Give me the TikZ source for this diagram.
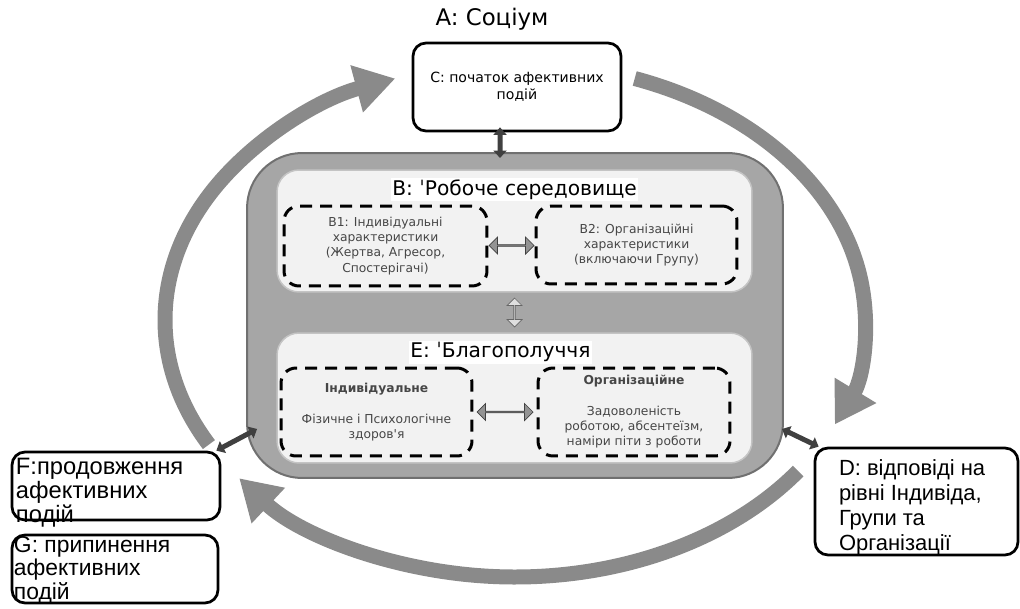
\documentclass[tikz,border=0pt]{standalone}
\usepackage{fontspec}
\setmainfont{Liberation Sans}
\newfontfamily\headfont{DejaVu Sans}
\usetikzlibrary{positioning, calc, arrows.meta, shapes.arrows}
\definecolor{arcgray}{RGB}{138,138,138}
\definecolor{envfill}{RGB}{166,166,166}
\definecolor{envedge}{RGB}{112,112,112}
\definecolor{panelfill}{RGB}{242,242,242}
\definecolor{paneledge}{RGB}{196,196,196}
\definecolor{linkdark}{RGB}{64,64,64}
\definecolor{notegray}{RGB}{70,70,70}
\tikzset{%
  event/.style = {rectangle, draw, line width=0.055cm, rounded corners=0.26cm,
                  inner sep=0pt},
  eventText/.style = {align=left, inner sep=0pt},
  envBox/.style = {rectangle, fill=envfill, draw=envedge, line width=0.04cm,
                   rounded corners=1.1cm, minimum width=10.72cm, minimum height=6.5cm},
  panel/.style = {rectangle, fill=panelfill, draw=paneledge, line width=0.03cm,
                  rounded corners=0.44cm, minimum width=9.5cm},
  panelTitle/.style = {fill=white, inner sep=1pt,
                       font=\headfont\fontsize{11.5}{13}\selectfont},
  factor/.style = {rectangle, draw, line width=0.06cm,
                   dash pattern=on 0.24cm off 0.16cm, rounded corners=0.3cm,
                   align=center, text=notegray, inner sep=0pt,
                   font=\headfont\fontsize{7}{8.6}\selectfont},
  loopArc/.style = {draw=arcgray, line width=0.3cm,
                    -{Triangle[width=0.92cm,length=0.8cm]}},
  link/.style = {draw=linkdark, line width=0.1cm,
                 {Triangle[width=0.26cm,length=0.15cm]}-{Triangle[width=0.26cm,length=0.15cm]}},
  exchange/.style = {double arrow, draw=black!75, fill=gray!85, inner sep=0pt,
                     minimum height=0.9cm, minimum width=0.34cm,
                     double arrow head extend=0.07cm}
  }

\begin{document}
\begin{tikzpicture}[x=0.02cm, y=-0.02cm]
    \useasboundingbox (0,0) rectangle (1020,608);
    \coordinate (hub) at (515,320);

    % the cycle of events
    \draw[loopArc] (hub) ++(151:350 and 257)
        arc[start angle=151, end angle=250, x radius=350, y radius=257];
    \draw[loopArc] (hub) ++(290:350 and 257)
        arc[start angle=290, end angle=384, x radius=350, y radius=257];
    \draw[loopArc] (hub) ++(36:350 and 257)
        arc[start angle=36, end angle=142, x radius=350, y radius=257];

    \node (envBox)  [envBox] at (515,315.5) {};
    \node (workB)   [panel, minimum height=2.44cm] at (514.5,231) {};
    \node (wellE)   [panel, minimum height=2.6cm]  at (514.5,398) {};

    \node (bTitle)  [panelTitle, below=0.16cm of workB.north] {B: ˈРобоче середовище};
    \node (eTitle)  [panelTitle, below=0.16cm of wellE.north, xshift=-0.28cm] {E: ˈБлагополуччя};

    \node (bInd) [factor, minimum width=4.06cm, minimum height=1.6cm] at (385.5,246)
        {B1: Індивідуальні\\характеристики\\(Жертва, Агресор,\\Спостерігачі)};
    \node (bOrg) [factor, minimum width=4.02cm, minimum height=1.56cm] at (636.5,245)
        {B2: Організаційні\\характеристики\\(включаючи Групу)};
    \node (eInd) [factor, minimum width=3.82cm, minimum height=1.76cm] at (376.5,412)
        {\textbf{Індивідуальне}\\[9pt]Фізичне і Психологічне\\здоров'я};
    \node (eOrg) [factor, minimum width=3.84cm, minimum height=1.76cm] at (634,412)
        {\textbf{Організаційне}\\[9pt]Задоволеність\\роботою, абсентеїзм,\\наміри піти з роботи};

    \node (bLink) [exchange] at ($(bInd.east)!0.5!(bOrg.west)$) {};
    \node (eLink) [exchange, minimum height=1.12cm] at ($(eInd.east)!0.5!(eOrg.west)$) {};
    \node (beLink) [exchange, rotate=90, fill=gray!25, draw=black!60,
                    minimum height=0.58cm, minimum width=0.3cm]
        at ($(workB.south)!0.5!(wellE.north)$) {};

    \node (csoc) [event, minimum width=4.16cm, minimum height=1.76cm, align=center,
                  font=\headfont\fontsize{8}{9.5}\selectfont] at (517,87)
        {C: початок афективних\\подій};
    \node (socLabel) [above=0.22cm of csoc, xshift=-0.5cm, inner sep=0pt,
                      font=\headfont\fontsize{13}{14}\selectfont] {A: Соціум};

    \node (contF) [event, minimum width=4.16cm, minimum height=1.36cm] at (116,486) {};
    \node (stopG) [event, minimum width=4.12cm, minimum height=1.36cm] at (115,569) {};
    \node (respD) [event, minimum width=4.06cm, minimum height=2.14cm] at (916.5,501.5) {};

    \node (fText) [eventText, below right=0.14cm and 0.1cm of contF.north west,
                   font=\fontsize{13.5}{12.2}\selectfont]
        {F:продовження\\афективних\\подій};
    \node (gText) [eventText, below right=0.06cm and 0.06cm of stopG.north west,
                   font=\fontsize{13}{11.5}\selectfont]
        {G: припинення\\афективних\\подій};
    \node (dText) [eventText, below right=0.26cm and 0.5cm of respD.north west,
                   font=\fontsize{12.5}{14.2}\selectfont]
        {D: відповіді на\\рівні Індивіда,\\Групи та\\Організації};

    \path ([xshift=-0.34cm,yshift=0.1cm]csoc.south) edge [link] ([xshift=-0.3cm,yshift=-0.12cm]envBox.north)
          ([xshift=-0.1cm]contF.north east) edge [link] ([shift={(0.22cm,1.0cm)}]envBox.south west)
          ([xshift=0.1cm]respD.north west) edge [link] ([shift={(-0.04cm,1.0cm)}]envBox.south east);
\end{tikzpicture}
\end{document}
